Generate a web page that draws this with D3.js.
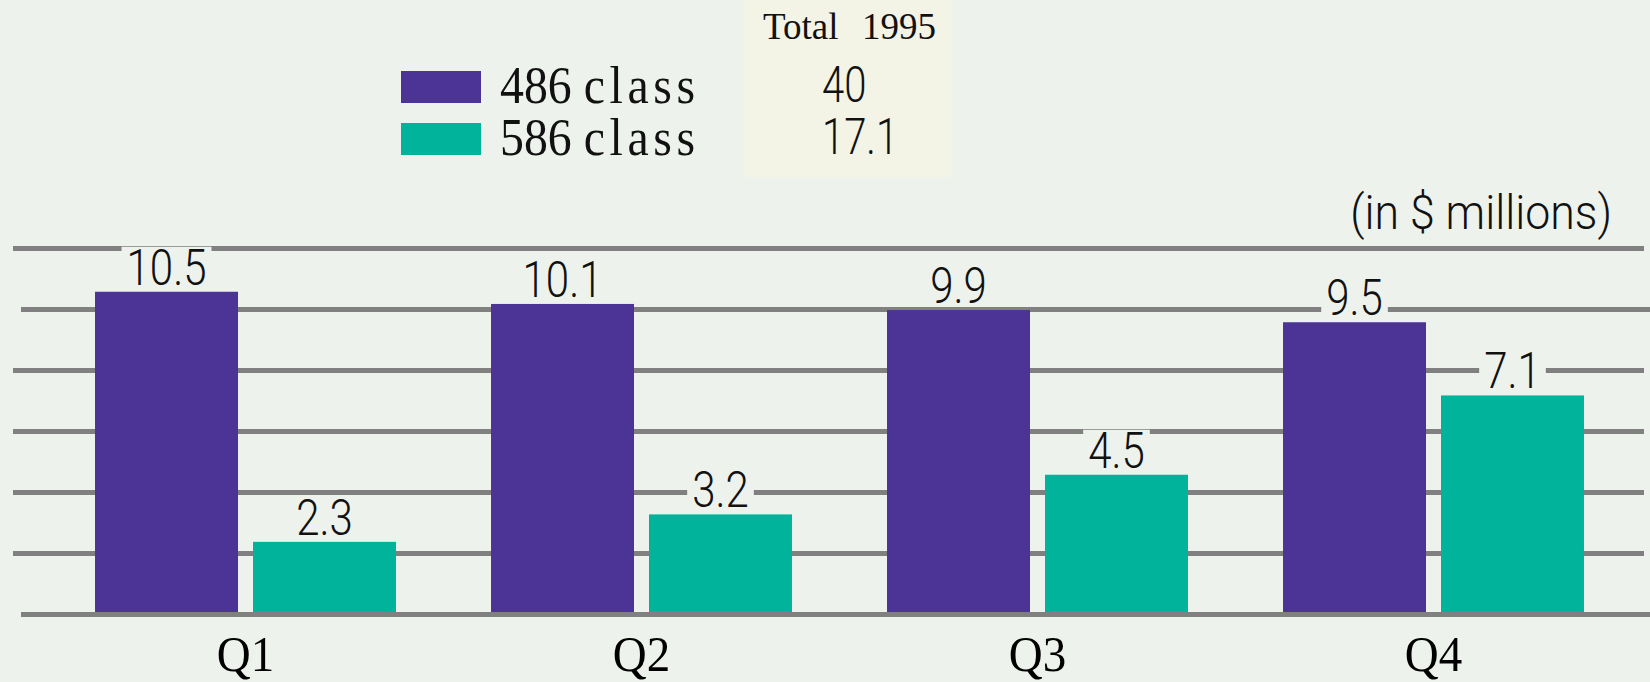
<!DOCTYPE html>
<html>
<head>
<meta charset="utf-8">
<script src="https://cdn.jsdelivr.net/npm/d3@7"></script>
<style>
  body { margin: 0; background: #eef2ec; }
  svg { display: block; }
</style>
</head>
<body>
<script>
// chart values
var quarters = ["Q1", "Q2", "Q3", "Q4"];
var seriesNames = ["486 class", "586 class"];
var series486 = [10.5, 10.1, 9.9, 9.5];
var series586 = [2.3, 3.2, 4.5, 7.1];
var totals = ["40", "17.1"];
var totalTitle = ["Total", "1995"];
var gridTicks = [0, 2, 4, 6, 8, 10, 12];
var unitLabel = "(in $ millions)";

var w = 1650;
var h = 682;
var colors = ["#4c3396", "#00b39a"];
var bg = "#eef2ec";
var sansFont = "Roboto, 'Open Sans', sans-serif";
var serifFont = "'Liberation Serif', 'DejaVu Serif', serif";

var svg = d3.select("body")
    .append("svg")
    .attr("width", w)
    .attr("height", h);

svg.append("rect")
    .attr("width", w)
    .attr("height", h)
    .style("fill", bg);

/*
    Scales: one band per quarter, then a small band scale
    inside each quarter for the two processor classes.
*/
var xScale = d3.scaleBand()
    .domain(quarters)
    .range([47.5, 1631.5])
    .paddingInner(0.24)
    .paddingOuter(0.12);

var xInner = d3.scaleBand()
    .domain(seriesNames)
    .range([0, xScale.bandwidth()])
    .paddingInner(0.095);

var yScale = d3.scaleLinear()
    .domain([0, 12])
    .range([612, 246]);

// gridlines (behind the bars)
svg.selectAll("line.grid")
    .data(gridTicks)
    .enter()
    .append("line")
    .attr("class", "grid")
    .attr("x1", function(d){ return (d == 0 || d == 10) ? 21 : 13; })
    .attr("x2", function(d){ return (d == 0 || d == 10) ? 1650 : 1644; })
    .attr("y1", function(d){ return yScale(d) + 2.5; })
    .attr("y2", function(d){ return yScale(d) + 2.5; })
    .style("stroke", "#808080")
    .style("stroke-width", 5);

var rows = [];
quarters.forEach(function(q, i){
    rows.push({q: q, s: seriesNames[0], v: series486[i], c: colors[0]});
    rows.push({q: q, s: seriesNames[1], v: series586[i], c: colors[1]});
});

svg.selectAll("rect.bar")
    .data(rows)
    .enter()
    .append("rect")
    .attr("class", "bar")
    .attr("x", function(d){ return xScale(d.q) + xInner(d.s); })
    .attr("y", function(d){ return yScale(d.v); })
    .attr("width", xInner.bandwidth())
    .attr("height", function(d){ return yScale(0) - yScale(d.v); })
    .style("fill", function(d){ return d.c; });

/*
    Value labels sit on a small patch of background colour so the
    gridlines look cut where the number crosses them.
*/
var labelScale = 0.84;
var labels = svg.selectAll("g.vlabel")
    .data(rows)
    .enter()
    .append("g")
    .attr("class", "vlabel")
    .attr("transform", function(d){
        var cx = xScale(d.q) + xInner(d.s) + xInner.bandwidth() / 2;
        return "translate(" + cx + "," + (yScale(d.v) - 7) + ")";
    });

labels.append("rect")
    .style("fill", bg);

labels.append("text")
    .attr("transform", "scale(" + labelScale + ",1)")
    .attr("text-anchor", "middle")
    .style("font-family", sansFont)
    .style("font-weight", 300)
    .style("font-size", "50px")
    .style("fill", "#111")
    .text(function(d){ return d.v.toFixed(1); });

labels.each(function(){
    var g = d3.select(this);
    var b = g.select("text").node().getBBox();
    var bw = b.width * labelScale;
    g.select("rect")
        .attr("x", -bw / 2 - 5)
        .attr("y", -38)
        .attr("width", bw + 10)
        .attr("height", 40);
});

// quarter names under the baseline
svg.selectAll("text.qlabel")
    .data(quarters)
    .enter()
    .append("text")
    .attr("class", "qlabel")
    .attr("transform", function(d){
        return "translate(" + (xScale(d) + xScale.bandwidth() / 2) + ",671) scale(0.94,1)";
    })
    .attr("text-anchor", "middle")
    .style("font-family", serifFont)
    .style("font-size", "50px")
    .style("fill", "#000")
    .text(function(d){ return d; });

svg.append("text")
    .attr("transform", "translate(1612,229) scale(0.93,1)")
    .attr("text-anchor", "end")
    .style("font-family", sansFont)
    .style("font-weight", 300)
    .style("font-size", "48px")
    .style("fill", "#111")
    .text(unitLabel);

/*
    Legend with the 1995 totals box to its right.
*/
svg.append("rect")
    .attr("x", 744)
    .attr("y", 0)
    .attr("width", 208)
    .attr("height", 177)
    .style("fill", "#f3f3e6");

svg.append("text")
    .attr("x", 763)
    .attr("y", 39)
    .style("font-family", serifFont)
    .style("font-size", "37px")
    .style("fill", "#111")
    .text(totalTitle[0]);

svg.append("text")
    .attr("x", 862)
    .attr("y", 39)
    .style("font-family", serifFont)
    .style("font-size", "37px")
    .style("fill", "#111")
    .text(totalTitle[1]);

var legend = svg.selectAll("g.legend")
    .data(seriesNames)
    .enter()
    .append("g")
    .attr("class", "legend")
    .attr("transform", function(d, i){
        return "translate(0," + (i * 52) + ")";
    });

legend.append("rect")
    .attr("x", 401)
    .attr("y", 71)
    .attr("width", 80)
    .attr("height", 32)
    .style("fill", function(d, i){ return colors[i]; });

var legendText = legend.append("text")
    .attr("transform", "translate(500,103) scale(0.92,1)")
    .style("font-family", serifFont)
    .style("font-size", "52px")
    .style("fill", "#111");

legendText.append("tspan")
    .text(function(d){ return d.split(" ")[0] + " "; });

legendText.append("tspan")
    .style("letter-spacing", "5px")
    .text(function(d){ return d.split(" ")[1]; });

legend.append("text")
    .attr("transform", "translate(822,102) scale(0.8,1)")
    .style("font-family", sansFont)
    .style("font-weight", 300)
    .style("font-size", "50px")
    .style("fill", "#111")
    .text(function(d, i){ return totals[i]; });
</script>
</body>
</html>
